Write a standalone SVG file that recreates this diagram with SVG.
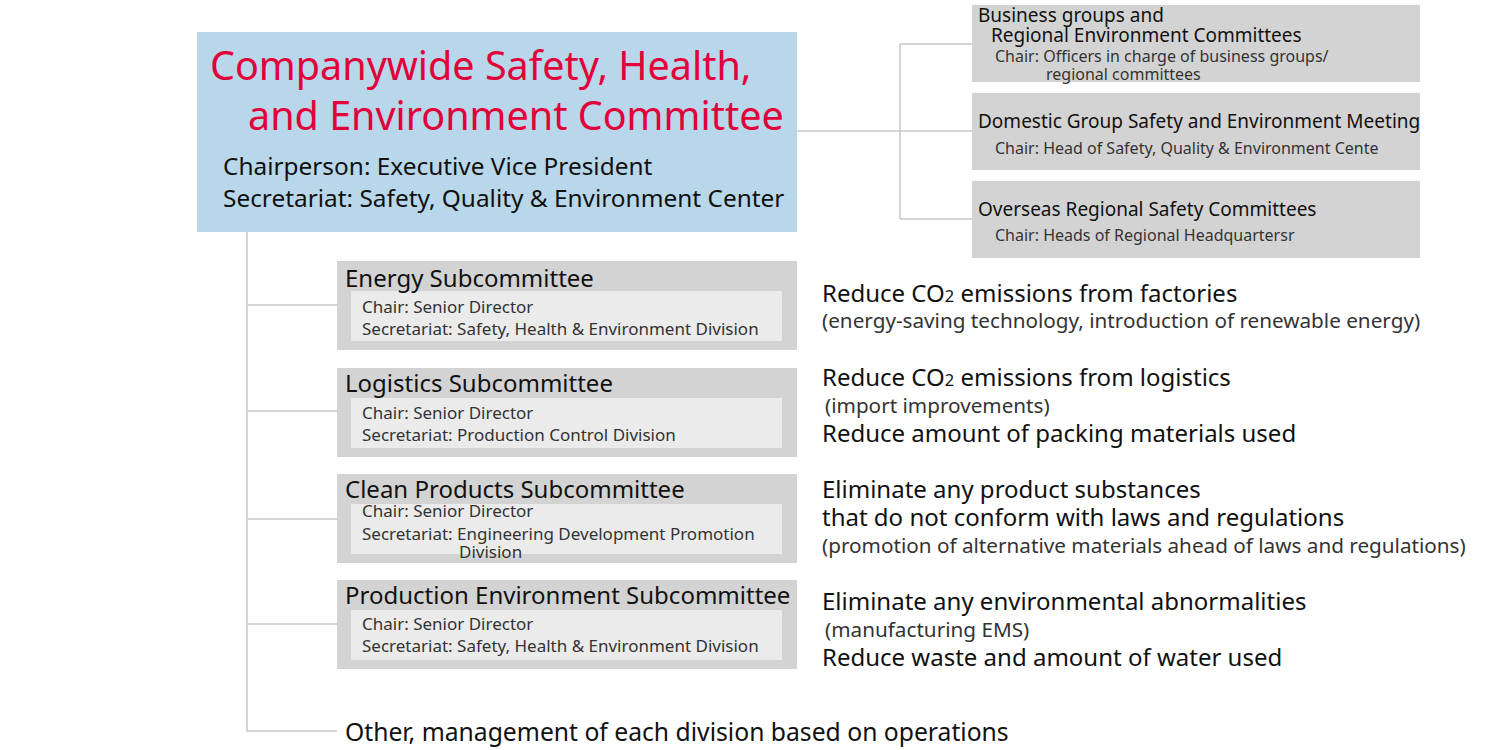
<svg xmlns="http://www.w3.org/2000/svg" width="1500" height="750" viewBox="0 0 1500 750">
<style>
text{font-family:"Noto Sans","Liberation Sans",sans-serif;fill:#111;}
.title{fill:#e2003b;font-size:39.5px;}
.sub{font-size:24.4px;}
.rb{fill:#d3d3d3;}
.rh{font-size:19px;}
.rs{font-size:16px;fill:#333;}
.ob{fill:#d3d3d3;}
.ib{fill:#ebebeb;}
.sh{font-size:24px;}
.sl{font-size:17px;fill:#333;}
.gt{font-size:24px;}
.gp{font-size:20.7px;fill:#333;}
.ot{font-size:24.7px;}
.conn{fill:none;stroke:#c8c8c8;stroke-width:1.5;}
</style>
<rect width="1500" height="750" fill="#fff"/>
<g id="connectors">
<path class="conn" d="M797,131 H900 M900,44 V219 M900,44 H972 M900,131 H972 M900,219 H972"/>
<path class="conn" d="M247,232 V731 H337 M247,305 H337 M247,411 H337 M247,519 H337 M247,624 H337"/>
</g>
<g id="main">
<rect x="197" y="32" width="600" height="200" fill="#b9d7ea"/>
<text class="title" x="210" y="80">Companywide Safety, Health,</text>
<text class="title" x="248" y="130">and Environment Committee</text>
<text class="sub" x="223" y="175">Chairperson: Executive Vice President</text>
<text class="sub" x="223" y="207">Secretariat: Safety, Quality &amp; Environment Center</text>
</g>
<g id="business">
<rect class="rb" x="972" y="5" width="448" height="77"/>
<text class="rh" x="978" y="22">Business groups and</text>
<text class="rh" x="991" y="42">Regional Environment Committees</text>
<text class="rs" x="995" y="62">Chair: Officers in charge of business groups/</text>
<text class="rs" x="1046" y="80">regional committees</text>
</g>
<g id="domestic">
<rect class="rb" x="972" y="93" width="448" height="77"/>
<text class="rh" x="978" y="128">Domestic Group Safety and Environment Meeting</text>
<text class="rs" x="995" y="154">Chair: Head of Safety, Quality &amp; Environment Cente</text>
</g>
<g id="overseas">
<rect class="rb" x="972" y="181" width="448" height="77"/>
<text class="rh" x="978" y="216">Overseas Regional Safety Committees</text>
<text class="rs" x="995" y="241">Chair: Heads of Regional Headquartersr</text>
</g>
<g id="energy">
<rect class="ob" x="337" y="261" width="460" height="89"/>
<rect class="ib" x="351" y="291" width="431" height="50"/>
<text class="sh" x="345" y="287">Energy Subcommittee</text>
<text class="sl" x="362" y="313">Chair: Senior Director</text>
<text class="sl" x="362" y="335">Secretariat: Safety, Health &amp; Environment Division</text>
</g>
<g id="logistics">
<rect class="ob" x="337" y="368" width="460" height="89"/>
<rect class="ib" x="351" y="398" width="431" height="50"/>
<text class="sh" x="345" y="392">Logistics Subcommittee</text>
<text class="sl" x="362" y="419">Chair: Senior Director</text>
<text class="sl" x="362" y="441">Secretariat: Production Control Division</text>
</g>
<g id="clean">
<rect class="ob" x="337" y="474" width="460" height="89"/>
<rect class="ib" x="351" y="504" width="431" height="50"/>
<text class="sh" x="345" y="498">Clean Products Subcommittee</text>
<text class="sl" x="362" y="517">Chair: Senior Director</text>
<text class="sl" x="362" y="540">Secretariat: Engineering Development Promotion</text>
<text class="sl" x="459" y="558">Division</text>
</g>
<g id="production">
<rect class="ob" x="337" y="580" width="460" height="89"/>
<rect class="ib" x="351" y="610" width="431" height="50"/>
<text class="sh" x="345" y="604">Production Environment Subcommittee</text>
<text class="sl" x="362" y="630">Chair: Senior Director</text>
<text class="sl" x="362" y="652">Secretariat: Safety, Health &amp; Environment Division</text>
</g>
<g id="other">
<text class="ot" x="345" y="741">Other, management of each division based on operations</text>
</g>
<g id="goals">
<text class="gt" x="822" y="302">Reduce CO<tspan font-size="16.5px">2</tspan> emissions from factories</text>
<text class="gp" x="822" y="328">(energy-saving technology, introduction of renewable energy)</text>
<text class="gt" x="822" y="386">Reduce CO<tspan font-size="16.5px">2</tspan> emissions from logistics</text>
<text class="gp" x="825" y="413">(import improvements)</text>
<text class="gt" x="822" y="442">Reduce amount of packing materials used</text>
<text class="gt" x="822" y="498">Eliminate any product substances</text>
<text class="gt" x="822" y="526">that do not conform with laws and regulations</text>
<text class="gp" x="822" y="553">(promotion of alternative materials ahead of laws and regulations)</text>
<text class="gt" x="822" y="610">Eliminate any environmental abnormalities</text>
<text class="gp" x="825" y="637">(manufacturing EMS)</text>
<text class="gt" x="822" y="666">Reduce waste and amount of water used</text>
</g>
</svg>
